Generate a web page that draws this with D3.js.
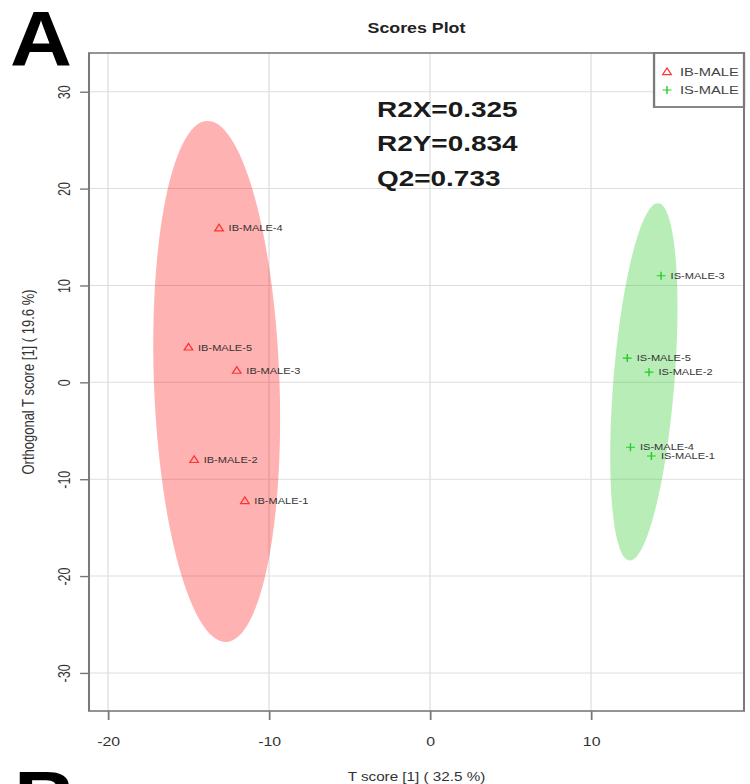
<!DOCTYPE html>
<html>
<head>
<meta charset="utf-8">
<script src="https://cdn.jsdelivr.net/npm/d3@7/dist/d3.min.js"></script>
<style>
    html, body { margin: 0; padding: 0; background: #fff; }
    svg { display: block; font-family: "Liberation Sans", Arial, sans-serif; }
</style>
</head>
<body>
<div id="chart"></div>
<script>
// Scores (T score, orthogonal T score)
var ibNames = ['IB-MALE-1', 'IB-MALE-2', 'IB-MALE-3', 'IB-MALE-4', 'IB-MALE-5'];
var ibT = [-11.5, -14.65, -12.0, -13.1, -15.0];
var ibOrtho = [-12.25, -8.0, 1.2, 15.9, 3.6];

var isNames = ['IS-MALE-1', 'IS-MALE-2', 'IS-MALE-3', 'IS-MALE-4', 'IS-MALE-5'];
var isT = [13.75, 13.6, 14.35, 12.45, 12.25];
var isOrtho = [-7.6, 1.05, 11.0, -6.7, 2.5];

// Ellipse shape per group: major half-axis (dx, dy) and minor half width, in score units
var ibEllipse = [-0.56, 26.9, 3.9];
var isEllipse = [0.87, 18.45, 1.9];

var groups = ['IB-MALE', 'IS-MALE'];
var stats = ['R2X=0.325', 'R2Y=0.834', 'Q2=0.733'];

var xTicks = [-20, -10, 0, 10];
var yTicks = [-30, -20, -10, 0, 10, 20, 30];

// The picture is stretched sideways, so everything is drawn narrow and scaled back out
var sx = 1.27;
var width = 750, height = 784;
var plotLeft = 89 / sx, plotRight = 744 / sx, plotTop = 53, plotBottom = 711;

var svg = d3.select('#chart').append('svg')
    .attr('width', width)
    .attr('height', height);

var g = svg.append('g').attr('transform', 'scale(' + sx + ',1)');

var x = d3.scaleLinear().domain([-21.18, 19.5]).range([plotLeft, plotRight]);
var y = d3.scaleLinear().domain([-33.93, 34.0]).range([plotBottom, plotTop]);

// grid
g.append('g').selectAll('line').data(xTicks).enter().append('line')
    .attr('x1', function(d) { return x(d); })
    .attr('x2', function(d) { return x(d); })
    .attr('y1', plotTop).attr('y2', plotBottom)
    .attr('stroke', '#dedede').attr('stroke-width', 1);
g.append('g').selectAll('line').data(yTicks).enter().append('line')
    .attr('y1', function(d) { return y(d); })
    .attr('y2', function(d) { return y(d); })
    .attr('x1', plotLeft).attr('x2', plotRight)
    .attr('stroke', '#dedede').attr('stroke-width', 1);

// ellipses around each group mean
function ellipsePath(tx, ty, shape) {
    var cx = d3.mean(tx), cy = d3.mean(ty);
    var pts = d3.range(0, 360, 3).map(function(a) {
        var t = a * Math.PI / 180;
        return [x(cx + shape[0] * Math.cos(t) + shape[2] * Math.sin(t)),
                y(cy + shape[1] * Math.cos(t))];
    });
    return d3.line().curve(d3.curveLinearClosed)(pts);
}

g.append('path')
    .attr('d', ellipsePath(ibT, ibOrtho, ibEllipse))
    .attr('fill', '#ff0000').attr('fill-opacity', 0.3);
g.append('path')
    .attr('d', ellipsePath(isT, isOrtho, isEllipse))
    .attr('fill', '#33cc33').attr('fill-opacity', 0.35);

var triangle = 'M0,-4L3.4,2.6L-3.4,2.6Z';
var plus = 'M-3.5,0H3.5M0,-4V4';

function drawGroup(names, tx, ty, shape, color) {
    var pts = names.map(function(n, i) { return {name: n, t: tx[i], o: ty[i]}; });
    var grp = g.append('g');
    grp.selectAll('path').data(pts).enter().append('path')
        .attr('transform', function(d) { return 'translate(' + x(d.t) + ',' + y(d.o) + ')'; })
        .attr('d', shape)
        .attr('fill', 'none')
        .attr('stroke', color)
        .attr('stroke-width', 1.1);
    grp.selectAll('text').data(pts).enter().append('text')
        .attr('x', function(d) { return x(d.t) + 7.5; })
        .attr('y', function(d) { return y(d.o); })
        .attr('dy', '0.35em')
        .attr('font-size', 8.7)
        .attr('fill', '#333')
        .text(function(d) { return d.name; });
}

drawGroup(ibNames, ibT, ibOrtho, triangle, '#ff3333');
drawGroup(isNames, isT, isOrtho, plus, '#22cc22');

// axes
var fmt = function(d) { return String(d); };
var xAxis = g.append('g')
    .attr('transform', 'translate(0,' + plotBottom + ')')
    .call(d3.axisBottom(x).tickValues(xTicks).tickFormat(fmt).tickSize(9).tickPadding(17));
var yAxis = g.append('g')
    .attr('transform', 'translate(' + plotLeft + ',0)')
    .call(d3.axisLeft(y).tickValues(yTicks).tickFormat(fmt).tickSize(7));

[xAxis, yAxis].forEach(function(a) {
    a.select('.domain').remove();
    a.selectAll('.tick line').attr('stroke', '#777').attr('stroke-width', 1.4);
    a.selectAll('.tick text')
        .attr('fill', '#333')
        .style('font-family', '"Liberation Sans", Arial, sans-serif')
        .style('font-size', '12.5px');
});
yAxis.selectAll('.tick text')
    .attr('x', 0).attr('dy', null)
    .attr('text-anchor', 'middle')
    .attr('transform', 'translate(' + (55 - plotLeft) + ',0) rotate(-90)');

// box
g.append('rect')
    .attr('x', plotLeft).attr('y', plotTop)
    .attr('width', plotRight - plotLeft).attr('height', plotBottom - plotTop)
    .attr('fill', 'none').attr('stroke', '#7a7a7a').attr('stroke-width', 1.6);

// legend
var lg = g.append('g');
lg.append('rect')
    .attr('x', 515).attr('y', plotTop)
    .attr('width', plotRight - 515).attr('height', 54)
    .attr('fill', '#fff').attr('stroke', '#7a7a7a').attr('stroke-width', 1.8);
lg.selectAll('path').data(groups).enter().append('path')
    .attr('transform', function(d, i) { return 'translate(525.2,' + (72 + i * 18) + ')'; })
    .attr('d', function(d, i) { return i === 0 ? triangle : plus; })
    .attr('fill', 'none')
    .attr('stroke', function(d, i) { return i === 0 ? '#ff3333' : '#22cc22'; })
    .attr('stroke-width', 1.1);
lg.selectAll('text').data(groups).enter().append('text')
    .attr('x', 535.4)
    .attr('y', function(d, i) { return 72 + i * 18; })
    .attr('dy', '0.35em')
    .attr('font-size', 11.6)
    .attr('fill', '#444')
    .text(function(d) { return d; });

// model stats
g.append('g').selectAll('text').data(stats).enter().append('text')
    .attr('x', 296.9)
    .attr('y', function(d, i) { return 117 + i * 34.5; })
    .attr('font-size', 22)
    .attr('font-weight', 'bold')
    .attr('fill', '#1a1a1a')
    .text(function(d) { return d; });

// titles
g.append('text')
    .attr('x', (plotLeft + plotRight) / 2).attr('y', 33)
    .attr('text-anchor', 'middle')
    .attr('font-size', 14).attr('font-weight', 'bold')
    .attr('fill', '#222')
    .text('Scores Plot');
g.append('text')
    .attr('x', (plotLeft + plotRight) / 2).attr('y', 781)
    .attr('text-anchor', 'middle')
    .attr('font-size', 12)
    .attr('fill', '#333')
    .text('T score [1] ( 32.5 %)');
g.append('text')
    .attr('transform', 'translate(27,' + (plotTop + plotBottom) / 2 + ') rotate(-90)')
    .attr('text-anchor', 'middle')
    .attr('font-size', 13)
    .attr('fill', '#333')
    .text('Orthogonal T score [1] ( 19.6 %)');

// panel letters
svg.append('text')
    .attr('transform', 'translate(10,66) scale(1.1,1)')
    .attr('font-size', 78).attr('font-weight', 'bold')
    .attr('fill', '#000')
    .text('A');
svg.append('text')
    .attr('transform', 'translate(14,826) scale(1.1,1)')
    .attr('font-size', 78).attr('font-weight', 'bold')
    .attr('fill', '#000')
    .text('B');
</script>
</body>
</html>
